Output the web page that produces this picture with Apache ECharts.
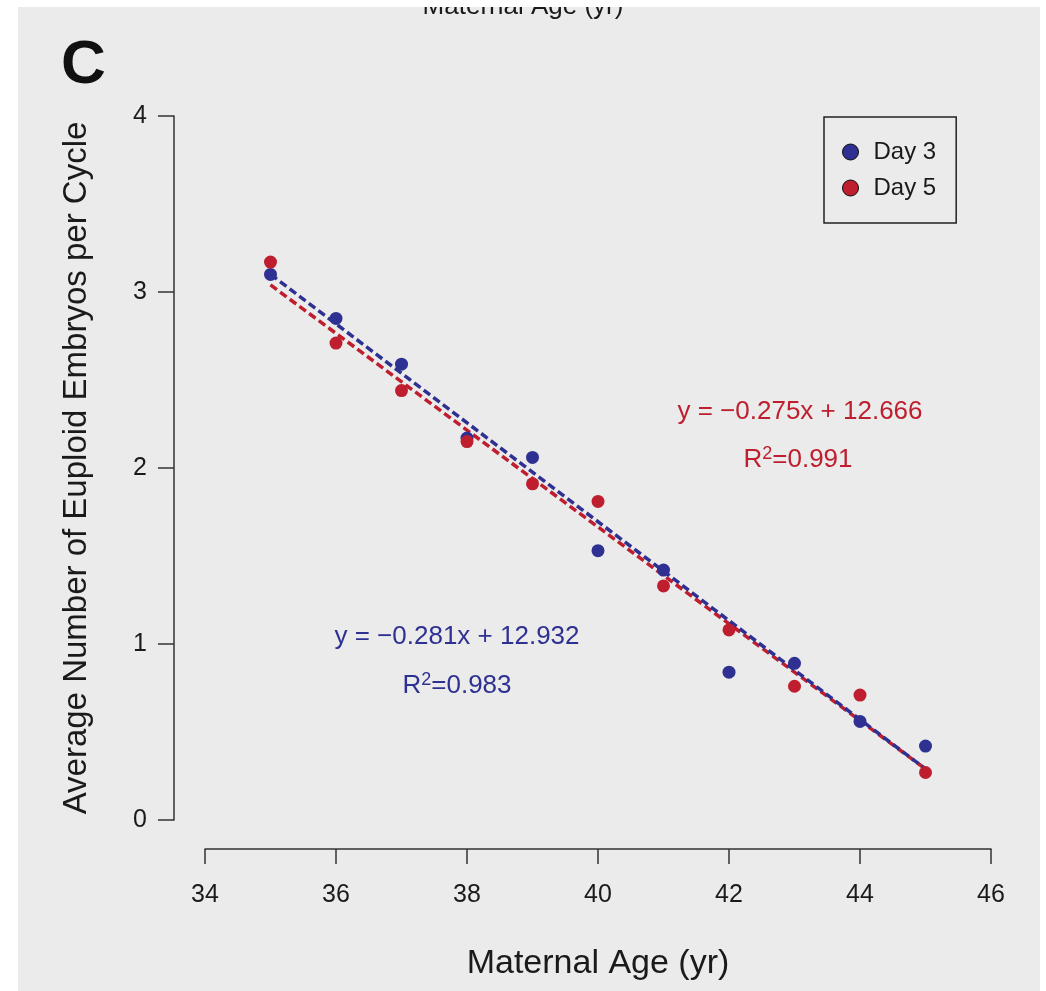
<!DOCTYPE html>
<html>
<head>
<meta charset="utf-8">
<script src="https://cdn.jsdelivr.net/npm/echarts@6/dist/echarts.min.js"></script>
<style>
html, body { margin: 0; padding: 0; background: #fff; }
#chart { width: 1046px; height: 991px; }
</style>
</head>
<body>
<div id="chart"></div>
<script>
// average euploid embryos per cycle, by maternal age
var ages = [35, 36, 37, 38, 39, 40, 41, 42, 43, 44, 45];
var day3 = [3.10, 2.85, 2.59, 2.17, 2.06, 1.53, 1.42, 0.84, 0.89, 0.56, 0.42];
var day5 = [3.17, 2.71, 2.44, 2.15, 1.91, 1.81, 1.33, 1.08, 0.76, 0.71, 0.27];
// end points of the fitted lines
var fitDay3 = [[35, 3.10], [45, 0.29]];
var fitDay5 = [[35, 3.04], [45, 0.29]];

var blue = '#2e3192';
var red = '#be1e2d';
var font = 'Liberation Sans';

var chart = echarts.init(document.getElementById('chart'));

function pairs(xs, ys) {
    return xs.map(function (x, i) { return [x, ys[i]]; });
}

function r2Text(value, color, x, y) {
    return {
        type: 'text', x: x, y: y, silent: true,
        style: {
            text: '{r|R}{s|2}{r|=' + value + '}', align: 'center', verticalAlign: 'middle',
            rich: {
                r: { fontSize: 26, fontFamily: font, fill: color },
                s: { fontSize: 18, fontFamily: font, fill: color, padding: [0, 0, 11, 0] }
            }
        }
    };
}

option = {
    backgroundColor: '#ffffff',
    animation: false,
    textStyle: { fontFamily: font },
    grid: { left: 205, right: 55, top: 116, bottom: 171 },
    legend: {
        left: 824,
        top: 117,
        orient: 'vertical',
        padding: [23, 20, 23, 18],
        itemWidth: 36,
        itemHeight: 16,
        itemGap: 12,
        borderColor: '#222',
        borderWidth: 1.5,
        borderRadius: 0,
        data: ['Day 3', 'Day 5'],
        itemStyle: { borderColor: '#111', borderWidth: 1 },
        textStyle: { fontSize: 24, lineHeight: 24, color: '#1a1a1a', fontFamily: font }
    },
    xAxis: {
        type: 'value',
        min: 34,
        max: 46,
        interval: 2,
        offset: 29,
        name: 'Maternal Age (yr)',
        nameLocation: 'middle',
        nameGap: 98,
        nameTextStyle: { fontSize: 34, color: '#1a1a1a' },
        axisLine: { onZero: false, lineStyle: { color: '#333', width: 1.5 } },
        axisTick: { length: 15, lineStyle: { color: '#333', width: 1.5 } },
        axisLabel: { fontSize: 25, margin: 34, color: '#1a1a1a' },
        splitLine: { show: false }
    },
    yAxis: {
        type: 'value',
        min: 0,
        max: 4,
        interval: 1,
        offset: 31,
        name: 'Average Number of Euploid Embryos per Cycle',
        nameLocation: 'middle',
        nameGap: 81,
        nameTextStyle: { fontSize: 33, color: '#1a1a1a' },
        axisLine: { show: true, onZero: false, lineStyle: { color: '#333', width: 1.5 } },
        axisTick: { show: true, length: 16, lineStyle: { color: '#333', width: 1.5 } },
        axisLabel: { fontSize: 25, margin: 27, color: '#1a1a1a' },
        splitLine: { show: false }
    },
    graphic: [
        { type: 'rect', z: -100, silent: true,
          shape: { x: 18, y: 7, width: 1022, height: 984 },
          style: { fill: '#ebebeb' } },
        { type: 'text', left: 61, top: 35, silent: true,
          style: { text: 'C', fontSize: 62, fontWeight: 'bold', fontFamily: font, fill: '#111' } },
        // title of the panel above, cut off at the top edge
        { type: 'text', x: 523, y: 20, silent: true,
          style: { text: 'Maternal Age (yr)', fontSize: 26, fontFamily: font, fill: '#1a1a1a',
                   align: 'center', verticalAlign: 'bottom' } },
        { type: 'rect', z: 100, silent: true,
          shape: { x: 0, y: 0, width: 1046, height: 7 },
          style: { fill: '#ffffff' } },
        { type: 'text', x: 800, y: 412, silent: true,
          style: { text: 'y = \u22120.275x + 12.666', fontSize: 26, fontFamily: font, fill: red,
                   align: 'center', verticalAlign: 'middle' } },
        r2Text('0.991', red, 798, 460),
        { type: 'text', x: 457, y: 637, silent: true,
          style: { text: 'y = \u22120.281x + 12.932', fontSize: 26, fontFamily: font, fill: blue,
                   align: 'center', verticalAlign: 'middle' } },
        r2Text('0.983', blue, 457, 686)
    ],
    series: [
        {
            name: 'Day 5 fit',
            type: 'line',
            data: fitDay5,
            symbol: 'none',
            z: 2,
            lineStyle: { color: red, width: 3.5, type: [8, 4] }
        },
        {
            name: 'Day 3 fit',
            type: 'line',
            data: fitDay3,
            symbol: 'none',
            z: 2,
            lineStyle: { color: blue, width: 3.5, type: [8, 4] }
        },
        {
            name: 'Day 3',
            type: 'scatter',
            data: pairs(ages, day3),
            symbol: 'circle',
            symbolSize: 13,
            z: 3,
            itemStyle: { color: blue, opacity: 1 }
        },
        {
            name: 'Day 5',
            type: 'scatter',
            data: pairs(ages, day5),
            symbol: 'circle',
            symbolSize: 13,
            z: 3,
            itemStyle: { color: red, opacity: 1 }
        }
    ]
};
chart.setOption(option);
</script>
</body>
</html>
